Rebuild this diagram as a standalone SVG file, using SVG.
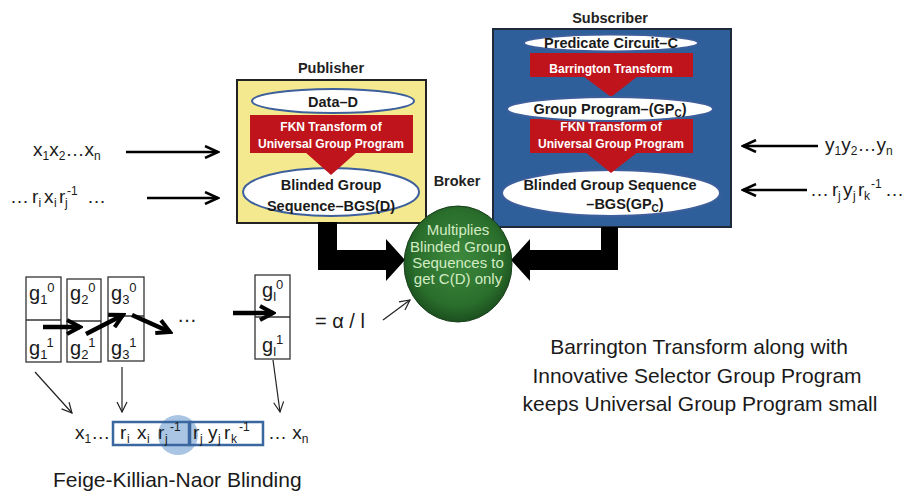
<svg xmlns="http://www.w3.org/2000/svg" width="922" height="496" viewBox="0 0 922 496">
  <style>
    .lbl { font-family: "Liberation Sans", Arial, sans-serif; font-weight: bold; font-size: 14.5px; fill: #222; text-anchor: middle; }
    .oval { fill: #ffffff; stroke: #3d5f9c; stroke-width: 2; }
    .ovtx { font-family: "Liberation Sans", Arial, sans-serif; font-weight: bold; font-size: 14.5px; fill: #1a1a1a; text-anchor: middle; }
    .red { fill: #c0141c; }
    .redtx { font-family: "Liberation Sans", Arial, sans-serif; font-weight: bold; font-size: 12px; fill: #ffffff; text-anchor: middle; }
    .math { font-family: "Liberation Sans", Arial, sans-serif; font-size: 19px; fill: #1a1a1a; }
    .sm { font-size: 12px; }
    .body { font-family: "Liberation Sans", Arial, sans-serif; font-size: 21px; fill: #1a1a1a; }
    .cell { fill: #ffffff; stroke: #333; stroke-width: 1.3; }
    .thick { stroke: #000; stroke-width: 4.5; fill: none; marker-end: url(#headThick); }
    .inarrow { stroke: #000; stroke-width: 2.5; fill: none; marker-end: url(#headMid); }
    .thin { stroke: #222; stroke-width: 1.2; fill: none; marker-end: url(#headThin); }
    .gtx { font-family: "Liberation Sans", Arial, sans-serif; font-size: 20px; fill: #1a1a1a; }
    .seqbox { fill: none; stroke: #3a679f; stroke-width: 2.5; }
  </style>
  <defs>
    <marker id="headMid" markerUnits="userSpaceOnUse" viewBox="0 0 16 14" refX="14" refY="7" markerWidth="16" markerHeight="14" orient="auto">
      <path d="M1,1 L14,7 L1,13" fill="none" stroke="#000" stroke-width="2.5"/>
    </marker>
    <marker id="headThick" markerUnits="userSpaceOnUse" viewBox="0 0 18 18" refX="15" refY="9" markerWidth="18" markerHeight="18" orient="auto">
      <path d="M2,2 L15,9 L2,16" fill="none" stroke="#000" stroke-width="4"/>
    </marker>
    <marker id="headThin" markerUnits="userSpaceOnUse" viewBox="0 0 12 12" refX="11" refY="6" markerWidth="12" markerHeight="12" orient="auto">
      <path d="M1,1 L11,6 L1,11" fill="none" stroke="#222" stroke-width="1.2"/>
    </marker>
    <radialGradient id="greenBall" cx="50%" cy="45%" r="55%">
      <stop offset="0" stop-color="#3e8a3e"/>
      <stop offset="0.75" stop-color="#2a6e2c"/>
      <stop offset="1" stop-color="#1b4f1e"/>
    </radialGradient>
  </defs>

  <rect width="922" height="496" fill="#ffffff"/>

  <!-- Publisher -->
  <g id="publisher">
    <text class="lbl" x="331" y="73">Publisher</text>
    <rect x="237" y="80" width="189" height="143" fill="#f4e98e" stroke="#222" stroke-width="2"/>
    <ellipse class="oval" cx="333" cy="101" rx="81" ry="12"/>
    <text class="ovtx" x="333" y="107" font-size="15">Data–D</text>
    <rect class="red" x="250" y="115" width="163" height="38"/>
    <text class="redtx" x="331" y="131">FKN Transform of</text>
    <text class="redtx" x="331" y="148">Universal Group Program</text>
    <ellipse class="oval" cx="331" cy="192" rx="88" ry="24"/>
    <polygon class="red" points="305,152 357,152 331,175"/>
    <text class="ovtx" x="331" y="190">Blinded Group</text>
    <text class="ovtx" x="331" y="211">Sequence–BGS(D)</text>
  </g>

  <!-- Subscriber -->
  <g id="subscriber">
    <text class="lbl" x="610" y="23">Subscriber</text>
    <rect x="493" y="29" width="238" height="198" fill="#2f5f9b" stroke="#1e2a3a" stroke-width="2"/>
    <rect class="red" x="530" y="53" width="163" height="24"/>
    <polygon class="red" points="583,76 638,76 611,97"/>
    <ellipse class="oval" cx="611" cy="43" rx="87" ry="8.5"/>
    <text class="ovtx" x="611" y="48">Predicate Circuit–C</text>
    <text class="redtx" x="611" y="73" font-size="13">Barrington Transform</text>
    <rect class="red" x="530" y="119" width="163" height="34"/>
    <ellipse class="oval" cx="610" cy="109" rx="103" ry="12"/>
    <text class="ovtx" x="610" y="114">Group Program–(GP<tspan font-size="10" dy="3">C</tspan><tspan dy="-3">)</tspan></text>
    <text class="redtx" x="611" y="131">FKN Transform of</text>
    <text class="redtx" x="611" y="148">Universal Group Program</text>
    <ellipse class="oval" cx="611" cy="193" rx="109" ry="23"/>
    <polygon class="red" points="585,152 638,152 611,173"/>
    <text class="ovtx" x="610" y="190">Blinded Group Sequence</text>
    <text class="ovtx" x="625" y="209">–BGS(GP<tspan font-size="10" dy="3">C</tspan><tspan dy="-3">)</tspan></text>
  </g>

  <!-- Input sequences -->
  <g id="inputs-left" class="math">
    <text x="33" y="156">x<tspan class="sm" dy="4">1</tspan><tspan dy="-4">x</tspan><tspan class="sm" dy="4">2</tspan><tspan dy="-4">…x</tspan><tspan class="sm" dy="4">n</tspan></text>
    <text x="10" y="203">…</text>
    <text x="32" y="203">r</text><text class="sm" x="38.5" y="207">i</text>
    <text x="44" y="203">x</text><text class="sm" x="54" y="207">i</text>
    <text x="59" y="203">r</text><text class="sm" x="65" y="207">j</text><text class="sm" x="67" y="195">-1</text>
    <text x="87" y="203">…</text>
  </g>
  <g id="inputs-right" class="math">
    <text x="825" y="151">y<tspan class="sm" dy="4">1</tspan><tspan dy="-4">y</tspan><tspan class="sm" dy="4">2</tspan><tspan dy="-4">…y</tspan><tspan class="sm" dy="4">n</tspan></text>
    <text x="810" y="196">…</text>
    <text x="832" y="196">r</text><text class="sm" x="838" y="200">j</text>
    <text x="843" y="196">y</text><text class="sm" x="853" y="200">j</text>
    <text x="858" y="196">r</text><text class="sm" x="864" y="200">k</text><text class="sm" x="871" y="188">-1</text>
    <text x="885" y="196">…</text>
  </g>

  <!-- Group program cells -->
  <g id="cell-g1">
    <rect class="cell" x="26" y="277" width="35" height="85"/>
    <line x1="26" y1="320" x2="61" y2="320" stroke="#333" stroke-width="1.3"/>
    <text class="gtx" x="29" y="300">g<tspan font-size="13" dy="4">1</tspan><tspan font-size="13" dy="-12">0</tspan></text>
    <text class="gtx" x="29" y="355">g<tspan font-size="13" dy="4">1</tspan><tspan font-size="13" dy="-12">1</tspan></text>
  </g>
  <g id="cell-g2">
    <rect class="cell" x="67" y="279" width="34" height="83"/>
    <line x1="67" y1="321" x2="101" y2="321" stroke="#333" stroke-width="1.3"/>
    <text class="gtx" x="70" y="300">g<tspan font-size="13" dy="4">2</tspan><tspan font-size="13" dy="-12">0</tspan></text>
    <text class="gtx" x="70" y="355">g<tspan font-size="13" dy="4">2</tspan><tspan font-size="13" dy="-12">1</tspan></text>
  </g>
  <g id="cell-g3">
    <rect class="cell" x="108" y="277" width="36" height="84"/>
    <line x1="108" y1="316" x2="144" y2="316" stroke="#333" stroke-width="1.3"/>
    <text class="gtx" x="111" y="300">g<tspan font-size="13" dy="4">3</tspan><tspan font-size="13" dy="-12">0</tspan></text>
    <text class="gtx" x="111" y="355">g<tspan font-size="13" dy="4">3</tspan><tspan font-size="13" dy="-12">1</tspan></text>
  </g>
  <text class="gtx" x="177" y="322">…</text>
  <g id="cell-gl">
    <rect class="cell" x="255" y="275" width="35" height="84"/>
    <line x1="255" y1="317" x2="290" y2="317" stroke="#333" stroke-width="1.3"/>
    <text class="gtx" x="262" y="297">g<tspan font-size="13" dy="4">l</tspan><tspan font-size="13" dy="-12">0</tspan></text>
    <text class="gtx" x="262" y="352">g<tspan font-size="13" dy="4">l</tspan><tspan font-size="13" dy="-12">1</tspan></text>
  </g>
  <text class="gtx" x="315" y="328">= α / l</text>

  <!-- Blinded sequence -->
  <g id="sequence" class="math" font-size="20">
    <circle cx="178" cy="435" r="20" fill="#a9c5e3"/>
    <rect class="seqbox" x="113" y="422" width="76" height="23"/>
    <rect class="seqbox" x="190" y="422" width="73" height="23"/>
    <text x="75" y="439">x<tspan class="sm" dy="4">1</tspan><tspan dy="-4">…</tspan></text>
    <text x="120" y="439">r</text><text class="sm" x="127" y="443">i</text>
    <text x="137" y="439">x</text><text class="sm" x="147" y="443">i</text>
    <text x="158" y="439">r</text><text class="sm" x="165" y="443">j</text><text class="sm" x="170" y="431">-1</text>
    <text x="193" y="439">r</text><text class="sm" x="200" y="443">j</text>
    <text x="208" y="439">y</text><text class="sm" x="218" y="443">j</text>
    <text x="224" y="439">r</text><text class="sm" x="231" y="443">k</text><text class="sm" x="239" y="431">-1</text>
    <text x="268" y="439">… x<tspan class="sm" dy="4">n</tspan></text>
  </g>
  <text class="body" x="53" y="487">Feige-Killian-Naor Blinding</text>

  <g id="note" class="body" text-anchor="middle">
    <text x="699" y="354">Barrington Transform along with</text>
    <text x="697" y="383">Innovative Selector Group Program</text>
    <text x="700" y="411">keeps Universal Group Program small</text>
  </g>

  <!-- Connectors -->
  <g id="connectors">
    <polygon points="318,222 337,222 337,250 386,250 386,239 405,260 386,281 386,270 318,270" fill="#000"/>
    <polygon points="618,227 601,227 601,250 530,250 530,239 511,260 530,281 530,270 618,270" fill="#000"/>
    <line class="inarrow" x1="126" y1="152" x2="218" y2="152"/>
    <line class="inarrow" x1="147" y1="198" x2="218" y2="198"/>
    <line class="inarrow" x1="818" y1="146" x2="743" y2="146"/>
    <line class="inarrow" x1="807" y1="190" x2="743" y2="190"/>
    <line class="thick" x1="43" y1="327" x2="80" y2="327"/>
    <line class="thick" x1="86" y1="334" x2="123" y2="315"/>
    <line class="thick" x1="132" y1="315" x2="170" y2="332"/>
    <line class="thick" x1="233" y1="313" x2="273" y2="313"/>
    <line class="thin" x1="383" y1="320" x2="410" y2="300"/>
    <line class="thin" x1="35" y1="372" x2="72" y2="413"/>
    <line class="thin" x1="122" y1="367" x2="122" y2="412"/>
    <line class="thin" x1="273" y1="360" x2="280" y2="412"/>
  </g>

  <!-- Broker -->
  <g id="broker">
    <text class="lbl" x="457" y="186">Broker</text>
    <ellipse cx="458" cy="264" rx="54" ry="58" fill="url(#greenBall)" stroke="#1a3f1c" stroke-width="1"/>
    <g font-family="Liberation Sans, Arial, sans-serif" font-size="15" fill="#d3ecc4" text-anchor="middle">
      <text x="458" y="235">Multiplies</text>
      <text x="458" y="252">Blinded Group</text>
      <text x="458" y="268">Sequences to</text>
      <text x="458" y="284">get C(D) only</text>
    </g>
  </g>
</svg>
